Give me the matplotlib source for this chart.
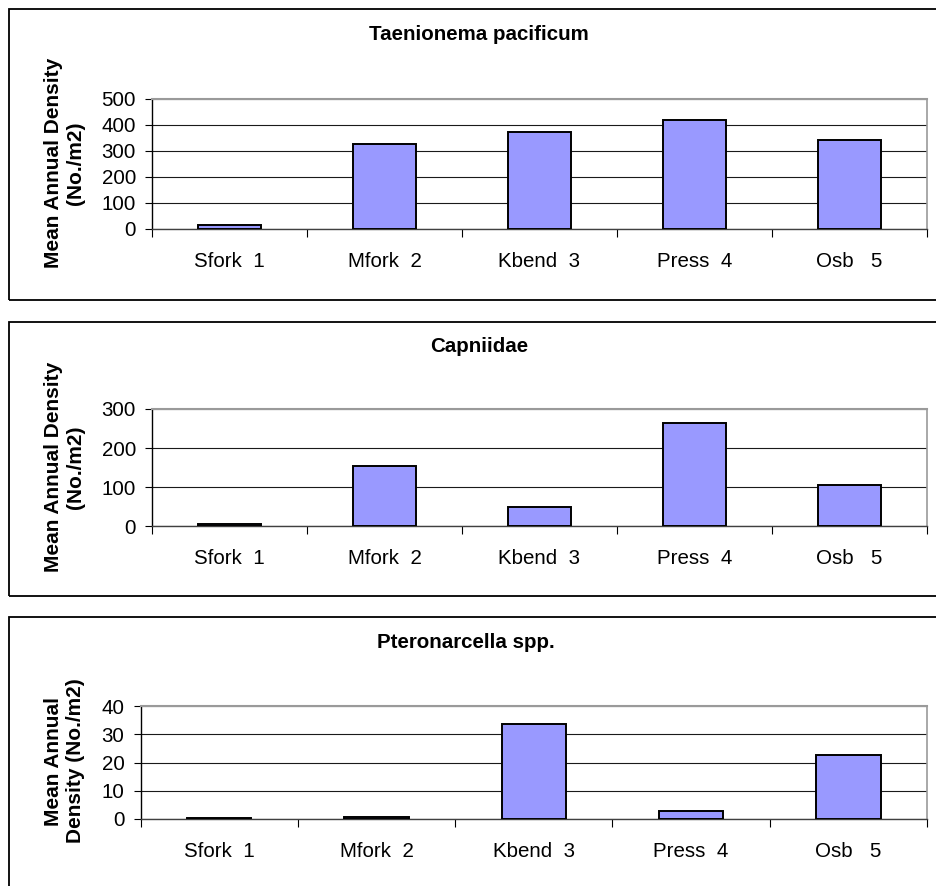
import numpy as np
import matplotlib
matplotlib.use("Agg")
import matplotlib.pyplot as plt
from matplotlib.patches import Rectangle

plt.rcParams["font.family"] = ["Liberation Sans", "DejaVu Sans"]

# ============================
# DADOS
# ============================
sites = ["Sfork  1", "Mfork  2", "Kbend  3", "Press  4", "Osb   5"]

taenionema = [14, 326, 375, 418, 344]
capniidae = [6, 154, 48, 264, 104]
pteronarcella = [0.3, 0.8, 33.5, 2.9, 22.8]

titles = ["Taenionema pacificum", "Capniidae", "Pteronarcella spp."]
ylabels = ["Mean Annual Density\n(No./m2)",
           "Mean Annual Density\n(No./m2)",
           "Mean Annual\nDensity (No./m2)"]
ymax = [500, 300, 40]
ystep = [100, 100, 10]

BAR = "#9999FF"
W, H = 937, 886

fig = plt.figure(figsize=(W / 100, H / 100), dpi=100)


def fx(x):
    return x / W


def fy(y):
    return 1 - y / H


# caixas (chart area) - em pixels: (top, bottom)
boxes = [(9, 300), (321.5, 596), (617, 900)]
for top, bot in boxes:
    fig.patches.append(Rectangle((fx(9), fy(bot)), fx(960), (bot - top) / H,
                                 transform=fig.transFigure, fill=False,
                                 edgecolor="black", linewidth=1.3, clip_on=False))

# eixos: left, right, top, bottom (pixels)
axpos = [(152, 927, 99, 229), (152, 927, 409, 526), (140.5, 927, 706, 819)]
title_pos = [(479, 35), (479, 347), (466, 643)]
ylab_pos = [(64.5, 163), (64.5, 467), (64.5, 761)]
series = [taenionema, capniidae, pteronarcella]

for i in range(3):
    l, r, t, b = axpos[i]
    ax = fig.add_axes([fx(l), fy(b), (r - l) / W, (b - t) / H])
    x = np.arange(len(sites))
    ax.bar(x, series[i], width=0.41, color=BAR, edgecolor="black",
           linewidth=1.4, zorder=3)
    ax.set_xlim(-0.5, 4.5)
    ax.set_ylim(0, ymax[i])
    ax.set_yticks(np.arange(0, ymax[i] + 1, ystep[i]))
    ax.yaxis.grid(True, color="#1a1a1a", linewidth=0.8, zorder=0)
    ax.set_axisbelow(True)

    ax.set_xticks(np.arange(-0.5, 5, 1))
    ax.set_xticklabels([])
    ax.set_xticks(x, minor=True)
    ax.set_xticklabels(sites, minor=True)
    ax.tick_params(axis="x", which="major", direction="out", length=6,
                   width=0.8, color="black")
    ax.tick_params(axis="x", which="minor", length=0, pad=16.5, labelsize=14.8)
    ax.tick_params(axis="y", direction="out", length=5, width=0.8,
                   pad=6.5, labelsize=14.8)

    ax.spines["top"].set_color("#9a9a9a")
    ax.spines["right"].set_color("#9a9a9a")
    ax.spines["top"].set_linewidth(1.5)
    ax.spines["right"].set_linewidth(1.2)
    ax.spines["left"].set_color("black")
    ax.spines["bottom"].set_color("#404040")
    ax.spines["left"].set_linewidth(1.0)
    ax.spines["bottom"].set_linewidth(1.0)

    tx, ty = title_pos[i]
    fig.text(fx(tx), fy(ty), titles[i], ha="center", va="center",
             fontsize=14.8, fontweight="bold")
    lx, ly = ylab_pos[i]
    fig.text(fx(lx), fy(ly), ylabels[i], ha="center", va="center",
             rotation=90, multialignment="center", fontsize=15,
             fontweight="bold", linespacing=1.25)

fig.savefig("out.png", dpi=100)
